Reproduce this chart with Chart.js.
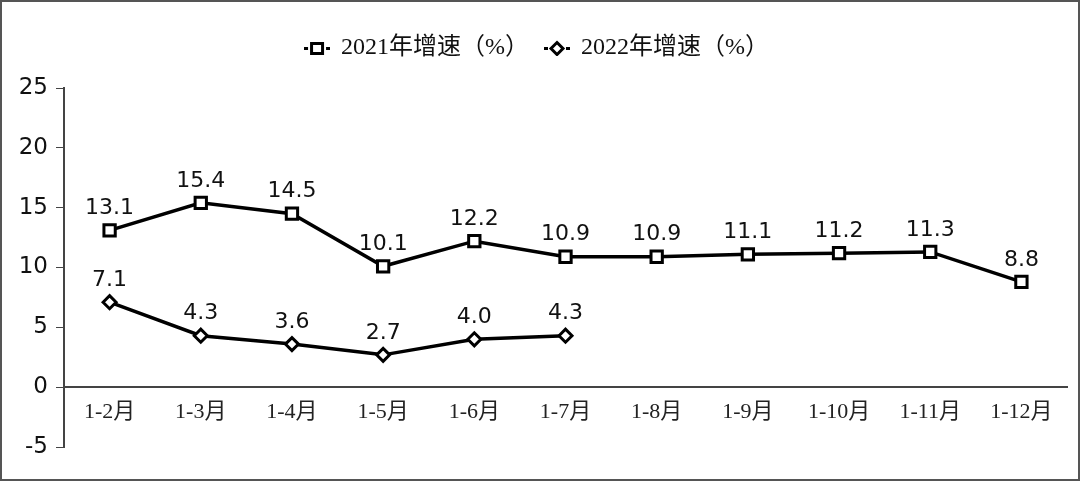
<!DOCTYPE html>
<html>
<head>
<meta charset="utf-8">
<script src="https://cdn.jsdelivr.net/npm/chart.js@4/dist/chart.umd.min.js"></script>
<style>
  html, body { margin: 0; padding: 0; background: #fff; }
  .box {
    width: 1080px; height: 481px; box-sizing: border-box;
    border: 2px solid #555; position: relative;
  }
</style>
</head>
<body>
<div class="box"><canvas id="growthChart" width="1076" height="477"></canvas></div>
<script>
const months = ["1-2月","1-3月","1-4月","1-5月","1-6月","1-7月","1-8月","1-9月","1-10月","1-11月","1-12月"];
const growth2021 = [13.1, 15.4, 14.5, 10.1, 12.2, 10.9, 10.9, 11.1, 11.2, 11.3, 8.8];
const growth2022 = [7.1, 4.3, 3.6, 2.7, 4.0, 4.3, null, null, null, null, null];
const seriesNames = ["2021年增速（%）", "2022年增速（%）"];
const yTicks = [-5, 0, 5, 10, 15, 20, 25];

// little "-□-" / "-◇-" icons for the legend
function legendIcon(shape) {
  const cv = document.createElement("canvas");
  cv.width = 26; cv.height = 16;
  const c = cv.getContext("2d");
  c.fillStyle = "#000";
  c.fillRect(0, 7, 4, 3);
  c.fillRect(22, 7, 4, 3);
  c.strokeStyle = "#000";
  c.lineWidth = 3;
  c.beginPath();
  if (shape === "rect") {
    c.rect(7.5, 3.5, 11, 10);
  } else {
    c.moveTo(13, 2.5); c.lineTo(19, 8.5); c.lineTo(13, 14.5); c.lineTo(7, 8.5); c.closePath();
  }
  c.fillStyle = "#fff";
  c.fill();
  c.stroke();
  return cv;
}

// value labels above each point
const pointLabels = {
  id: "pointLabels",
  afterDatasetsDraw(chart) {
    const c = chart.ctx;
    c.save();
    c.font = "22px 'DejaVu Sans', Verdana, sans-serif";
    c.fillStyle = "#111";
    c.textAlign = "center";
    c.textBaseline = "bottom";
    chart.data.datasets.forEach((ds, i) => {
      chart.getDatasetMeta(i).data.forEach((pt, j) => {
        const v = ds.data[j];
        if (v === null || v === undefined) return;
        c.fillText(v.toFixed(1), pt.x, pt.y - 11);
      });
    });
    c.restore();
  }
};

// extra gap under the legend
const legendGap = {
  id: "legendGap",
  beforeInit(chart) {
    const fit = chart.legend.fit;
    chart.legend.fit = function () {
      fit.bind(chart.legend)();
      this.height += 18;
    };
  }
};

document.addEventListener("DOMContentLoaded", () => {
  const ctx = document.getElementById("growthChart");
  const icons = [legendIcon("rect"), legendIcon("diamond")];
  new Chart(ctx, {
    type: "line",
    data: {
      labels: months,
      datasets: [{
        label: seriesNames[0],
        data: growth2021,
        borderColor: "#000",
        borderWidth: 3.5,
        pointStyle: "rect",
        pointRadius: 8,
        pointBorderWidth: 3,
        pointBackgroundColor: "#fff",
        pointBorderColor: "#000",
        tension: 0
      }, {
        label: seriesNames[1],
        data: growth2022,
        borderColor: "#000",
        borderWidth: 3.5,
        pointStyle: "rectRot",
        pointRadius: 6.5,
        pointBorderWidth: 3,
        pointBackgroundColor: "#fff",
        pointBorderColor: "#000",
        spanGaps: false,
        tension: 0
      }]
    },
    options: {
      responsive: false,
      animation: false,
      devicePixelRatio: 1,
      layout: { padding: { left: 0, right: 6, top: 18, bottom: 32 } },
      plugins: {
        tooltip: { enabled: false },
        legend: {
          position: "top",
          labels: {
            usePointStyle: true,
            color: "#111",
            font: { family: "'Liberation Serif', 'Noto Sans CJK SC', serif", size: 24 },
            padding: 16,
            generateLabels: (chart) => chart.data.datasets.map((ds, i) => ({
              text: ds.label,
              pointStyle: icons[i],
              fillStyle: "#fff",
              strokeStyle: "#000",
              lineWidth: 0,
              fontColor: "#111",
              datasetIndex: i
            }))
          }
        }
      },
      scales: {
        x: {
          position: { y: 0 },
          offset: true,
          grid: { display: false, drawTicks: false },
          border: { display: true, color: "#444", width: 2 },
          ticks: {
            color: "#222",
            padding: 12,
            maxRotation: 0,
            autoSkip: false,
            font: { family: "'Liberation Serif', 'Noto Sans CJK SC', serif", size: 22 }
          }
        },
        y: {
          min: -5,
          max: 25,
          afterBuildTicks: (axis) => { axis.ticks = yTicks.map(v => ({ value: v })); },
          afterFit: (axis) => { axis.width = 62; },
          grid: { drawOnChartArea: false, drawTicks: true, tickLength: 8, color: "#444" },
          border: { display: true, color: "#444", width: 2 },
          ticks: {
            color: "#111",
            padding: 8,
            font: { family: "'DejaVu Sans', Verdana, sans-serif", size: 23 }
          }
        }
      }
    },
    plugins: [pointLabels, legendGap]
  });
});
</script>
</body>
</html>
